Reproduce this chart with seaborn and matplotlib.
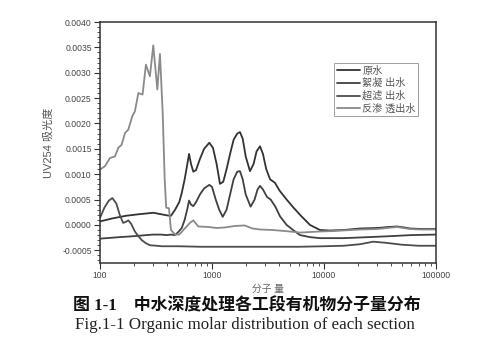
import matplotlib
matplotlib.use("Agg")
import matplotlib.pyplot as plt
import matplotlib.ticker as mticker
import seaborn as sns
import pandas as pd
from matplotlib.lines import Line2D

series_names = ["原水", "絮凝 出水", "超滤 出水", "反渗 透出水"]

raw_mw = [100, 130, 170, 220, 299, 394, 430, 468, 510, 537, 570, 600, 624, 650, 681,
          720, 780, 850, 946, 1020, 1100, 1178, 1260, 1350, 1450, 1560, 1680, 1778,
          1880, 2000, 2183, 2350, 2500, 2683, 2850, 3050, 3300, 3651, 4000, 4640,
          5300, 6105, 7500, 9210, 11300, 15000, 20950, 30000, 38000, 44900, 52000,
          58600, 75000, 100000]
raw_val = [0.00007, 0.00013, 0.00018, 0.00021, 0.00024, 0.00019, 0.00018, 0.0003,
           0.00045, 0.00063, 0.0009, 0.00118, 0.0014, 0.0012, 0.00105, 0.00108,
           0.0013, 0.0015, 0.00162, 0.00152, 0.0012, 0.00081, 0.00085, 0.0011,
           0.0014, 0.00168, 0.0018, 0.00183, 0.0017, 0.00135, 0.00106, 0.0012,
           0.00145, 0.00155, 0.0014, 0.0011, 0.0009, 0.00083, 0.00068, 0.0005,
           0.00035, 0.0002, 0.0, -0.0001, -0.00011, -0.0001, -0.00007, -0.00006,
           -0.00004, -0.00003, -0.00005, -0.00007, -0.00008, -0.00008]

floc_mw = [100, 150, 205, 260, 299, 350, 394, 430, 468, 500, 537, 570, 600, 624,
           650, 681, 720, 780, 850, 946, 1000, 1080, 1160, 1246, 1350, 1450, 1560,
           1680, 1778, 1880, 2000, 2213, 2400, 2550, 2683, 2850, 3100, 3343, 3700,
           4047, 4640, 5300, 6105, 7500, 9210, 15000, 25000, 40000, 60000, 100000]
floc_val = [-0.00027, -0.00024, -0.00022, -0.0002, -0.00019, -0.00019, -0.0002,
            -0.00019, -0.0002, -0.00014, -0.00006, 0.0001, 0.0003, 0.00048,
            0.0004, 0.00037, 0.00045, 0.0006, 0.00072, 0.00079, 0.00075, 0.0005,
            0.0003, 0.00016, 0.0003, 0.0006, 0.0009, 0.00105, 0.00106, 0.0009,
            0.0006, 0.00036, 0.0005, 0.0007, 0.00077, 0.0007, 0.00055, 0.0005,
            0.00035, 0.00017, 0.0, -0.0001, -0.0002, -0.00024, -0.00026, -0.00026,
            -0.00024, -0.00022, -0.0002, -0.00019]

uf_mw = [100, 110, 120, 129, 140, 150, 161, 170, 179, 190, 205, 220, 236, 257,
         279, 320, 356, 500, 800, 1500, 3000, 6000, 10000, 15000, 20950, 27500,
         35000, 50000, 70000, 100000]
uf_val = [0.00014, 0.00035, 0.00048, 0.00053, 0.00042, 0.0002, 0.00004, 0.00006,
          0.00009, 0.00002, -0.00013, -0.00022, -0.0003, -0.00036, -0.0004,
          -0.00041, -0.00042, -0.00042, -0.00043, -0.00043, -0.00043, -0.00043,
          -0.00042, -0.00041, -0.00038, -0.00033, -0.00035, -0.00039, -0.00041,
          -0.00041]

ro_mw = [100, 110.8, 122.8, 136, 145.7, 156, 167, 179, 194, 205, 220, 240, 257,
         279, 299, 325, 343, 363, 378, 390, 413, 430, 468, 510, 555, 600, 635,
         681, 755, 927, 1100, 1300, 1600, 1960, 2300, 2700, 3500, 4500, 6105,
         9000, 12000, 20950, 30000, 44900, 58600, 75000, 100000]
ro_val = [0.00109, 0.00116, 0.00132, 0.00135, 0.00152, 0.00158, 0.00181, 0.00188,
          0.00214, 0.00224, 0.0026, 0.00257, 0.00316, 0.00293, 0.00354, 0.00267,
          0.00337, 0.0022, 0.0009, 0.00034, 0.00033, -0.0001, -0.00019, -0.00019,
          -0.0001, -0.00002, 0.00004, 0.00009, -0.00003, -0.00004, -0.00006,
          -0.00005, -0.00002, -0.00001, -0.00007, -0.00009, -0.0001, -0.00012,
          -0.00015, -0.00013, -0.00012, -0.00009, -0.00008, -0.00004, -0.00008,
          -0.00009, -0.00009]

x_ticks = [100, 1000, 10000, 100000]
x_tick_labels = ["100", "1000", "10000", "100000"]
y_ticks = [-0.0005, 0.0, 0.0005, 0.0010, 0.0015, 0.0020, 0.0025, 0.0030, 0.0035, 0.0040]

frames = []
for name, mw, val in zip(series_names, [raw_mw, floc_mw, uf_mw, ro_mw],
                         [raw_val, floc_val, uf_val, ro_val]):
    frames.append(pd.DataFrame({"mw": mw, "val": val, "series": name}))
df = pd.concat(frames, ignore_index=True)

sns.set_theme(style="white")
plt.rcParams["font.family"] = ["Liberation Sans", "Noto Sans CJK SC"]

fig = plt.figure(figsize=(4.82, 3.5), dpi=100)
ax = fig.add_axes([100 / 482, 1 - 263 / 350, 336 / 482, 241 / 350])

palette = {"原水": "#333333", "絮凝 出水": "#404040", "超滤 出水": "#4d4d4d",
           "反渗 透出水": "#8a8a8a"}
sns.lineplot(data=df, x="mw", y="val", hue="series", palette=palette,
             sort=False, estimator=None, linewidth=1.3, ax=ax, legend=False)

ax.set_xscale("log")
ax.set_xlim(100, 100000)
ax.set_ylim(-0.00075, 0.0040)
ax.set_xticks(x_ticks)
ax.set_xticklabels(x_tick_labels)
ax.xaxis.set_minor_locator(mticker.LogLocator(base=10, subs=range(2, 10)))
ax.xaxis.set_minor_formatter(mticker.NullFormatter())
ax.set_yticks(y_ticks)
ax.set_yticklabels([f"{v:.4f}" for v in y_ticks])
ax.yaxis.set_minor_locator(mticker.MultipleLocator(0.0001))

for s in ax.spines.values():
    s.set_color("#333333")
    s.set_linewidth(1.1)
ax.tick_params(which="major", direction="out", length=4, width=0.8,
               color="#333333", labelsize=6.2, labelcolor="#444444", pad=2,
               bottom=True, left=True, top=False, right=False)
ax.tick_params(which="minor", direction="out", length=2, width=0.6,
               color="#333333", bottom=True, left=True, top=False, right=False)
ax.set_xlabel("")
ax.set_ylabel("UV254 吸光度", fontsize=8, color="#555555", labelpad=6)

handles = [Line2D([0], [0], color=palette[n], lw=1.3) for n in series_names]
leg = ax.legend(handles, series_names, loc="upper left",
                bbox_to_anchor=((334 - 100) / 336, (263 - 63) / 241),
                frameon=True, fancybox=False, fontsize=7.3, handlelength=2.3,
                handletextpad=0.25, borderpad=0.25, labelspacing=0.25,
                borderaxespad=0)
leg.get_frame().set_edgecolor("#888888")
leg.get_frame().set_linewidth(0.7)
for t in leg.get_texts():
    t.set_color("#555555")

fig.text(268 / 482, 1 - 289 / 350, "分子 量", fontsize=7, color="#666666",
         ha="center", va="center")
fig.text(73 / 482, 1 - 306.5 / 350, "图 1-1    中水深度处理各工段有机物分子量分布",
         fontsize=12.2, fontweight="bold", ha="left", va="center",
         family=["Liberation Serif", "Noto Sans CJK SC"], color="#111111")
fig.text(75 / 482, 1 - 325 / 350, "Fig.1-1 Organic molar distribution of each section",
         fontsize=12.2, ha="left", va="center", family=["Liberation Serif"],
         color="#222222")

fig.savefig("out.png", dpi=100)
